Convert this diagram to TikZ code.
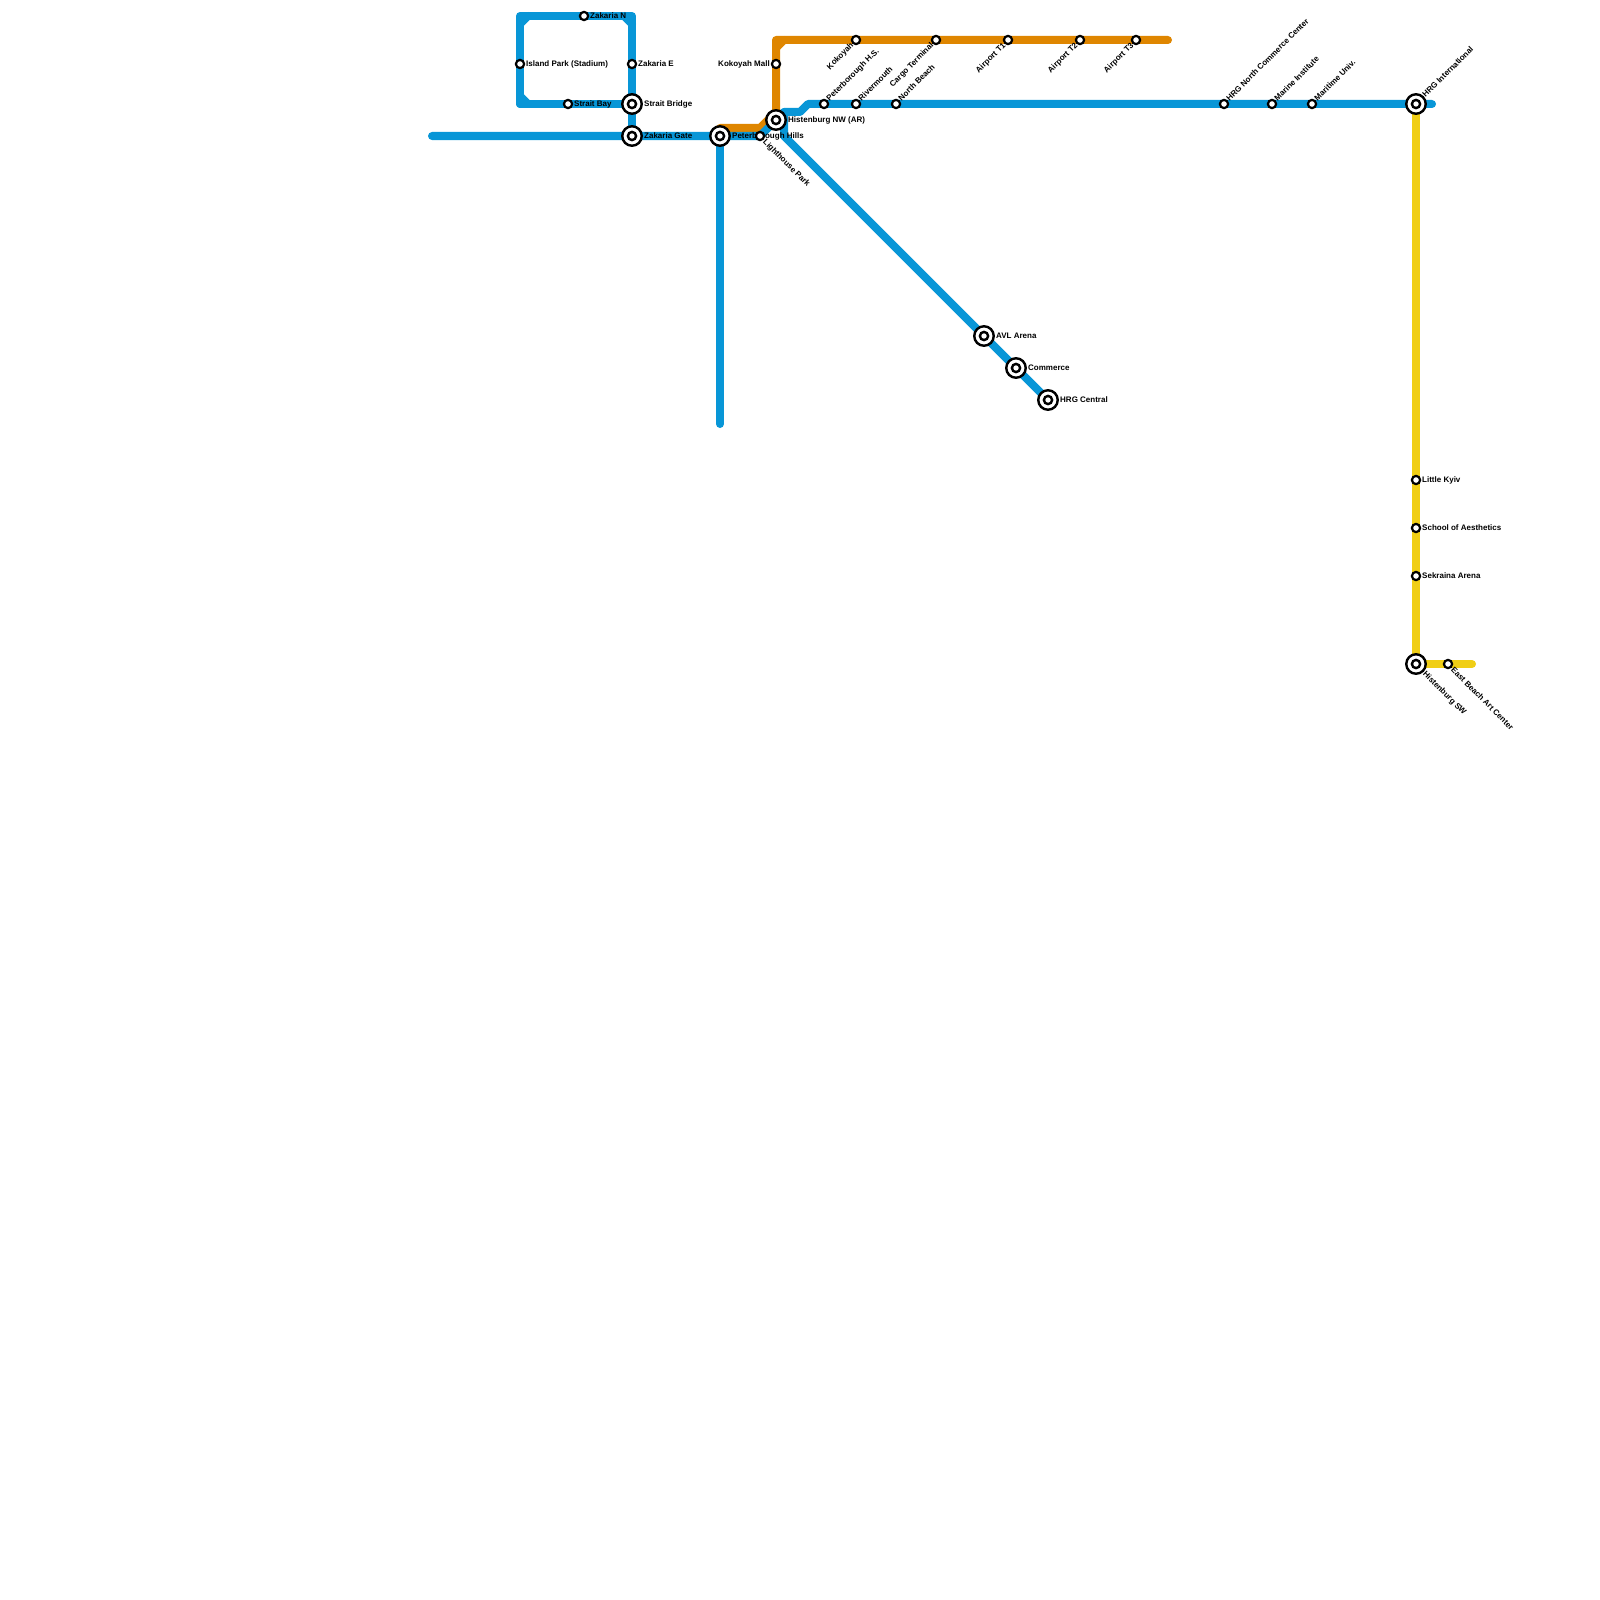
\documentclass[tikz,border=0pt]{standalone}
\usepackage{fontspec}
\setmainfont{Liberation Sans}
\definecolor{lblue}{HTML}{0896D7}
\definecolor{lorange}{HTML}{DF8600}
\definecolor{lyellow}{HTML}{F0CE15}
\tikzset{
  railb/.style={draw=lblue,line width=8pt,line cap=round,line join=round},
  railo/.style={draw=lorange,line width=8pt,line cap=round,line join=round},
  raily/.style={draw=lyellow,line width=8pt,line cap=round,line join=round},
  stn/.style={circle,draw=black,fill=white,line width=2.2pt,minimum size=8.2pt,inner sep=0pt},
  hub/.style={circle,draw=black,fill=white,line width=2.4pt,minimum size=19.5pt,inner sep=0pt},
  hubin/.style={circle,draw=black,fill=white,line width=2.4pt,minimum size=8.2pt,inner sep=0pt},
  lab/.style={font=\fontsize{8pt}{9pt}\selectfont\bfseries,text=black,inner sep=0pt,text height=5.8pt,text depth=0pt},
  labe/.style={lab,anchor=west},
  labw/.style={lab,anchor=east},
  labne/.style={lab,anchor=west,rotate=45},
  labse/.style={lab,anchor=west,rotate=-45},
  labsw/.style={lab,anchor=east,rotate=45}
}
\begin{document}
\begin{tikzpicture}[x=1pt,y=-1pt]
\useasboundingbox (0,0) rectangle (1600,1600);
\coordinate (zn) at (584,16);
\coordinate (ip) at (520,64);
\coordinate (ze) at (632,64);
\coordinate (sb) at (568,104);
\coordinate (sbr) at (632,104);
\coordinate (zg) at (632,136);
\coordinate (ph) at (720,136);
\coordinate (lp) at (760,136);
\coordinate (hnw) at (776,120);
\coordinate (km) at (776,64);
\coordinate (ko) at (856,40);
\coordinate (ct) at (936,40);
\coordinate (t1) at (1008,40);
\coordinate (t2) at (1080,40);
\coordinate (t3) at (1136,40);
\coordinate (phs) at (824,104);
\coordinate (rm) at (856,104);
\coordinate (nb) at (896,104);
\coordinate (nc) at (1224,104);
\coordinate (mi) at (1272,104);
\coordinate (mu) at (1312,104);
\coordinate (hi) at (1416,104);
\coordinate (lk) at (1416,480);
\coordinate (sa) at (1416,528);
\coordinate (se) at (1416,576);
\coordinate (hsw) at (1416,664);
\coordinate (eb) at (1448,664);
\coordinate (avl) at (984,336);
\coordinate (com) at (1016,368);
\coordinate (hc) at (1048,400);
% way points
\coordinate (wbl) at (432,136);
\coordinate (wtl) at (520,16);
\coordinate (wtr) at (632,16);
\coordinate (wbr) at (520,104);
\coordinate (wa) at (784,112);
\coordinate (wb) at (800,112);
\coordinate (wc) at (808,104);
\coordinate (wd) at (1432,104);
\coordinate (we) at (784,136);
\coordinate (wf) at (720,424);
\coordinate (og) at (720,128);
\coordinate (oh) at (760,128);
\coordinate (oi) at (776,112);
\coordinate (oj) at (776,40);
\coordinate (ok) at (1168,40);
\coordinate (yb) at (1472,664);
\coordinate (c1a) at (520,24);\coordinate (c1b) at (528,16);
\coordinate (c2a) at (624,16);\coordinate (c2b) at (632,24);
\coordinate (c3a) at (520,96);\coordinate (c3b) at (528,104);
\coordinate (c4a) at (776,48);\coordinate (c4b) at (784,40);
% yellow line
\path[raily] (hi) -- (lk) -- (sa) -- (se) -- (hsw) -- (eb) -- (yb);
% orange line
\path[railo] (og) -- (oh) -- (oi) -- (km) -- (oj) -- (ko) -- (ct) -- (t1) -- (t2) -- (t3) -- (ok);
\path[railo] (c4a) -- (c4b);
% blue lines
\path[railb] (wbl) -- (zg) -- (ph) -- (lp) -- (hnw);
\path[railb] (ph) -- (wf);
\path[railb] (wbr) -- (ip) -- (wtl) -- (zn) -- (wtr) -- (ze) -- (sbr) -- (zg);
\path[railb] (wbr) -- (sb) -- (sbr);
\path[railb] (c1a) -- (c1b);
\path[railb] (c2a) -- (c2b);
\path[railb] (c3a) -- (c3b);
\path[railb] (hnw) -- (wa) -- (wb) -- (wc) -- (phs) -- (rm) -- (nb) -- (nc) -- (mi) -- (mu) -- (hi) -- (wd);
\path[railb] (wa) -- (we) -- (avl) -- (com) -- (hc);
% labels
\node[labe] (tzn) at (590,16) {Zakaria N};
\node[labe] (tip) at (526,64) {Island Park (Stadium)};
\node[labe] (tze) at (638,64) {Zakaria E};
\node[labe] (tsb) at (574,104) {Strait Bay};
\node[labe] (tsbr) at (644,104) {Strait Bridge};
\node[labe] (tzg) at (644,136) {Zakaria Gate};
\node[labe] (tph) at (732,136) {Peterborough Hills};
\node[labse] (tlp) at (764.5,140.5) {Lighthouse Park};
\node[labe] (thnw) at (788,120) {Histenburg NW (AR)};
\node[labw] (tkm) at (770,64) {Kokoyah Mall};
\node[labsw] (tko) at (852,44) {Kokoyah};
\node[labsw] (tct) at (932,44) {Cargo Terminal};
\node[labsw] (tt1) at (1004,44) {Airport T1};
\node[labsw] (tt2) at (1076,44) {Airport T2};
\node[labsw] (tt3) at (1132,44) {Airport T3};
\node[labne] (tphs) at (827.5,99.5) {Peterborough H.S.};
\node[labne] (trm) at (859.5,99.5) {Rivermouth};
\node[labne] (tnb) at (899.5,99.5) {North Beach};
\node[labne] (tnc) at (1227.5,99.5) {HRG North Commerce Center};
\node[labne] (tmi) at (1275.5,99.5) {Marine Institute};
\node[labne] (tmu) at (1315.5,99.5) {Maritime Univ.};
\node[labne] (thi) at (1423.5,96) {HRG International};
\node[labe] (tlk) at (1422,480) {Little Kyiv};
\node[labe] (tsa) at (1422,528) {School of Aesthetics};
\node[labe] (tse) at (1422,576) {Sekraina Arena};
\node[labse] (thsw) at (1424.5,672.5) {Histenburg SW};
\node[labse] (teb) at (1452.5,668.5) {East Beach Art Center};
\node[labe] (tavl) at (996,336) {AVL Arena};
\node[labe] (tcom) at (1028,368) {Commerce};
\node[labe] (thc) at (1060,400) {HRG Central};
% stations
\foreach \p/\q in {zn/Szn,ip/Sip,ze/Sze,sb/Ssb,lp/Slp,km/Skm,ko/Sko,ct/Sct,t1/St1,t2/St2,t3/St3,phs/Sphs,rm/Srm,nb/Snb,nc/Snc,mi/Smi,mu/Smu,lk/Slk,sa/Ssa,se/Sse,eb/Seb}
  \node[stn] (\q) at (\p) {};
\foreach \p/\q in {sbr/Ssbr,zg/Szg,ph/Sph,hnw/Shnw,hi/Shi,hsw/Shsw,avl/Savl,com/Scom,hc/Shc}{
  \node[hub] (\q) at (\p) {};
  \node[hubin] (\q i) at (\p) {};
}
\end{tikzpicture}
\end{document}
